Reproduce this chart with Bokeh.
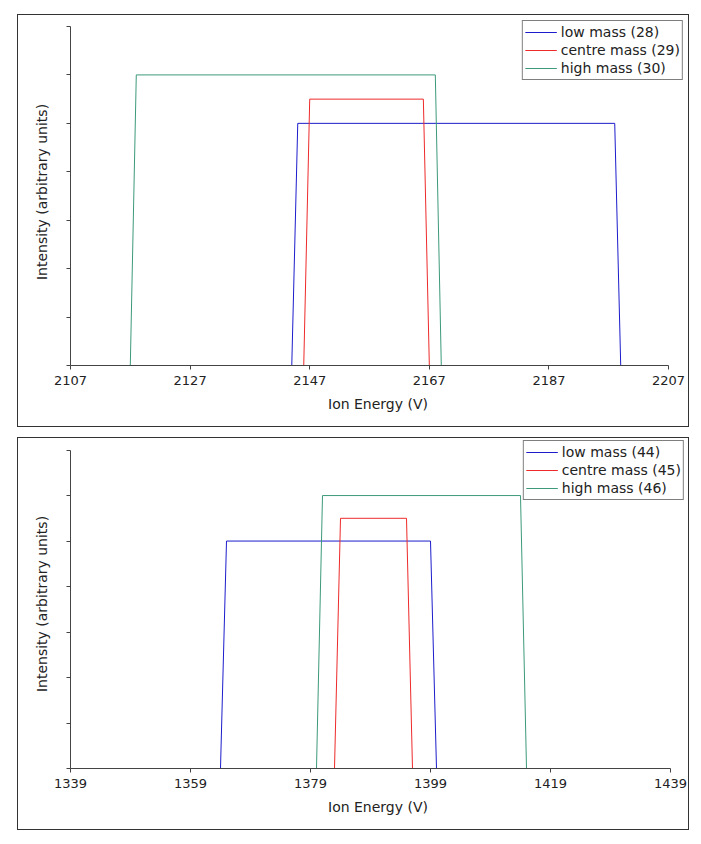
from bokeh.plotting import figure
from bokeh.models import Range1d, Legend, LegendItem, FixedTicker
from bokeh.layouts import column
from bokeh.embed import file_html
from bokeh.resources import INLINE

# ---------------- data ----------------
top_labels = ["low mass (28)", "centre mass (29)", "high mass (30)"]
top_low_x = [2144, 2145, 2198, 2199]
top_low_y = [0, 5, 5, 0]
top_centre_x = [2146, 2147, 2166, 2167]
top_centre_y = [0, 5.5, 5.5, 0]
top_high_x = [2117, 2118, 2168, 2169]
top_high_y = [0, 6, 6, 0]
top_xticks = [2107, 2127, 2147, 2167, 2187, 2207]

bot_labels = ["low mass (44)", "centre mass (45)", "high mass (46)"]
bot_low_x = [1364, 1365, 1399, 1400]
bot_low_y = [0, 5, 5, 0]
bot_centre_x = [1383, 1384, 1395, 1396]
bot_centre_y = [0, 5.5, 5.5, 0]
bot_high_x = [1380, 1381, 1414, 1415]
bot_high_y = [0, 6, 6, 0]
bot_xticks = [1339, 1359, 1379, 1399, 1419, 1439]

yticks = [0, 1, 2, 3, 4, 5, 6, 7]
colors = ["#1c1ccc", "#ee2a2a", "#3c9a7a"]
FONT = "DejaVu Sans"

WIDTH = 672
MB_LEFT = 52


def make_panel(series, labels, xticks, height, mb_top, mb_bottom, mb_right,
               px_per_unit, leg_margin, outer_margin):
    x0 = xticks[0]
    frame_w = WIDTH - MB_LEFT - mb_right
    frame_h = height - mb_top - mb_bottom
    p = figure(width=WIDTH, height=height, output_backend="svg", toolbar_location=None,
               x_range=Range1d(x0, x0 + frame_w / 6.0),
               y_range=Range1d(0, frame_h / px_per_unit),
               min_border_left=MB_LEFT, min_border_right=mb_right, min_border_top=mb_top,
               min_border_bottom=mb_bottom)
    p.margin = outer_margin
    p.styles = {"border": "1px solid #333333"}
    p.outline_line_color = None
    p.xgrid.visible = False
    p.ygrid.visible = False
    p.background_fill_color = "white"
    p.border_fill_color = "white"

    items = []
    for (xs, ys), lab, col in zip(series, labels, colors):
        r = p.line(xs, ys, line_color=col, line_width=1)
        items.append(LegendItem(label=lab, renderers=[r]))

    p.xaxis.ticker = FixedTicker(ticks=xticks)
    p.xaxis.bounds = (xticks[0], xticks[-1])
    p.yaxis.ticker = FixedTicker(ticks=yticks)
    p.yaxis.bounds = (0, 7)
    p.yaxis.major_label_overrides = {t: "" for t in yticks}
    for ax in (p.xaxis[0], p.yaxis[0]):
        ax.axis_line_color = "#444444"
        ax.major_tick_line_color = "#444444"
        ax.major_tick_out = 4
        ax.major_tick_in = 0
        ax.minor_tick_out = 0
        ax.minor_tick_in = 0
        ax.major_label_text_font = FONT
        ax.major_label_text_font_size = "13px"
        ax.major_label_text_color = "#222222"
        ax.axis_label_text_font = FONT
        ax.axis_label_text_font_size = "14px"
        ax.axis_label_text_font_style = "normal"
        ax.axis_label_text_color = "#222222"
    p.xaxis.major_label_standoff = 6
    p.xaxis.axis_label_standoff = 8
    p.yaxis.major_label_standoff = 3
    p.yaxis.axis_label_standoff = 17
    p.xaxis.axis_label = "Ion Energy (V)"
    p.yaxis.axis_label = "Intensity (arbitrary units)"

    leg = Legend(items=items, location="top_right")
    leg.margin = leg_margin
    leg.padding = 2
    leg.spacing = 0
    leg.glyph_width = 32
    leg.glyph_height = 18
    leg.label_height = 18
    leg.label_standoff = 4
    leg.label_text_font = FONT
    leg.label_text_font_size = "14px"
    leg.label_text_color = "#222222"
    leg.border_line_color = "black"
    leg.border_line_width = 1
    leg.background_fill_color = "white"
    leg.background_fill_alpha = 1
    p.add_layout(leg)
    return p


p1 = make_panel([(top_low_x, top_low_y), (top_centre_x, top_centre_y), (top_high_x, top_high_y)],
                top_labels, top_xticks, 413, 3, 63, 3, 48.43, 2, (14, 0, 0, 17))
p2 = make_panel([(bot_low_x, bot_low_y), (bot_centre_x, bot_centre_y), (bot_high_x, bot_high_y)],
                bot_labels, bot_xticks, 393, 1, 63, 5, 45.49, 1, (10, 0, 0, 17))

layout = column(p1, p2, spacing=0)
open("out.html", "w").write(file_html(layout, INLINE))
